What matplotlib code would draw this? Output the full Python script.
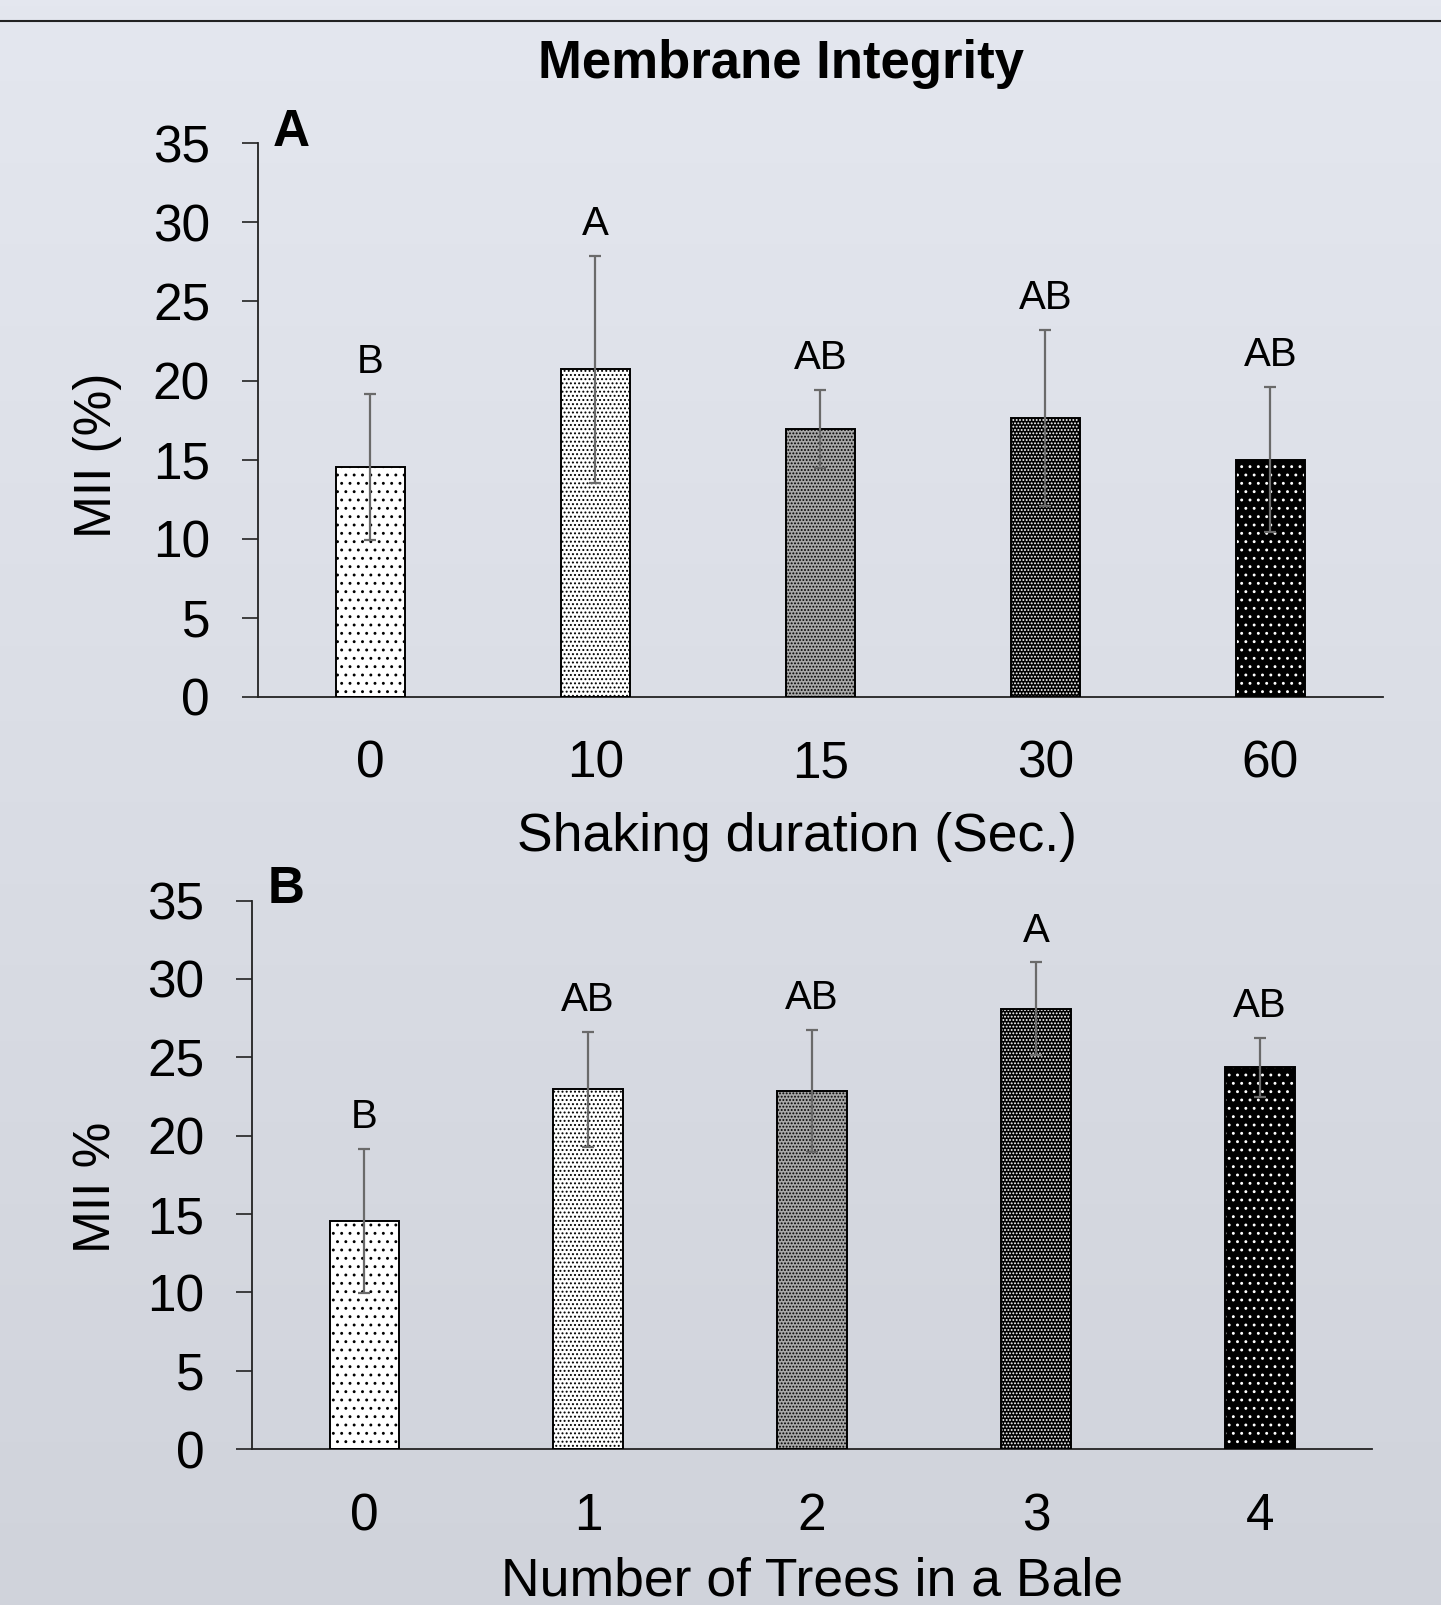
import numpy as np
import matplotlib

matplotlib.use("Agg")
import matplotlib.pyplot as plt
from matplotlib.lines import Line2D

plt.rcParams["font.family"] = ["Liberation Sans", "DejaVu Sans"]
plt.rcParams["hatch.linewidth"] = 0.9

# panel A: shaking duration
dur_labels = ["0", "10", "15", "30", "60"]
dur_mii = [14.55, 20.7, 16.95, 17.65, 15.0]
dur_err = [4.6, 7.2, 2.45, 5.55, 4.6]
dur_groups = ["B", "A", "AB", "AB", "AB"]

# panel B: number of trees in a bale
tree_labels = ["0", "1", "2", "3", "4"]
tree_mii = [14.55, 22.95, 22.85, 28.1, 24.35]
tree_err = [4.6, 3.65, 3.9, 2.95, 1.9]
tree_groups = ["B", "AB", "AB", "A", "AB"]

# (face, hatch colour, hatch) per bar, light -> dark
STYLES = [
    ("white", "black", ".."),
    ("white", "black", "...."),
    ("#a8a8a8", "black", "....."),
    ("black", "white", "....."),
    ("black", "white", ".."),
]
ERR_C = "#6a6a6a"
FS = 37


def draw_panel(ax, labels, vals, errs, groups, xlab, ylab, tag):
    x = np.arange(len(labels))
    for xi, v, (face, hc, h) in zip(x, vals, STYLES):
        ax.bar(xi, v, width=0.31, color=face, edgecolor="none", zorder=2)
        ax.bar(xi, v, width=0.31, color="none", edgecolor=hc, hatch=h, lw=0, zorder=3)
        ax.bar(xi, v, width=0.31, color="none", edgecolor="black", lw=1.4, zorder=4)
    ax.errorbar(x, vals, yerr=errs, fmt="none", ecolor=ERR_C, elinewidth=1.6,
                capsize=4.5, capthick=1.6, zorder=5)
    for xi, v, e, g in zip(x, vals, errs, groups):
        ax.annotate(g, (xi, v + e), xytext=(0, 15), textcoords="offset points",
                    ha="center", va="baseline", fontsize=29, color="black")
    ax.set_ylim(0, 35)
    ax.set_yticks(range(0, 36, 5))
    ax.set_xlim(-0.5, 4.5)
    ax.set_xticks(x)
    ax.set_xticklabels(labels)
    ax.tick_params(axis="x", length=0, pad=31, labelsize=FS)
    ax.tick_params(axis="y", length=11.5, width=1.2, pad=23, labelsize=FS, color="#222222")
    for s in ("top", "right"):
        ax.spines[s].set_visible(False)
    for s in ("left", "bottom"):
        ax.spines[s].set_color("#222222")
        ax.spines[s].set_linewidth(1.3)
    ax.set_facecolor("none")
    ax.set_xlabel(xlab, fontsize=38.5)
    ax.set_ylabel(ylab, fontsize=FS)
    ax.text(0.03, 1.02, tag, transform=ax.transAxes, fontsize=FS,
            fontweight="bold", ha="center", va="center")


fig = plt.figure(figsize=(14.41, 16.05), dpi=100)

# soft vertical gradient background
bg = fig.add_axes([0, 0, 1, 1], zorder=-10)
grad = np.linspace(0, 1, 256)[:, None]
top_c = np.array([228, 231, 239]) / 255
bot_c = np.array([208, 211, 219]) / 255
img = top_c[None, None, :] * (1 - grad[:, :, None]) + bot_c[None, None, :] * grad[:, :, None]
bg.imshow(img, aspect="auto", extent=[0, 1, 0, 1])
bg.axis("off")

fig.add_artist(Line2D([0, 1], [0.987, 0.987], color="#222222", lw=1.5, transform=fig.transFigure))
fig.text(0.542, 0.96, "Membrane Integrity", fontsize=38, fontweight="bold",
         ha="center", va="center")

ax1 = fig.add_axes([0.179, 0.5658, 0.7807, 0.3449])
draw_panel(ax1, dur_labels, dur_mii, dur_err, dur_groups,
           "Shaking duration (Sec.)", "MII (%)", "A")
ax1.xaxis.set_label_coords(0.479, -0.253)
ax1.xaxis.label.set_va("center")
ax1.yaxis.set_label_coords(-0.143, 0.437)
ax1.yaxis.label.set_va("center")

ax2 = fig.add_axes([0.1751, 0.0971, 0.7769, 0.3418])
draw_panel(ax2, tree_labels, tree_mii, tree_err, tree_groups,
           "Number of Trees in a Bale", "MII %", "B")
ax2.xaxis.set_label_coords(0.5, -0.2405)
ax2.xaxis.label.set_va("center")
ax2.yaxis.set_label_coords(-0.139, 0.478)
ax2.yaxis.label.set_va("center")

fig.savefig("out.png", dpi=100)
